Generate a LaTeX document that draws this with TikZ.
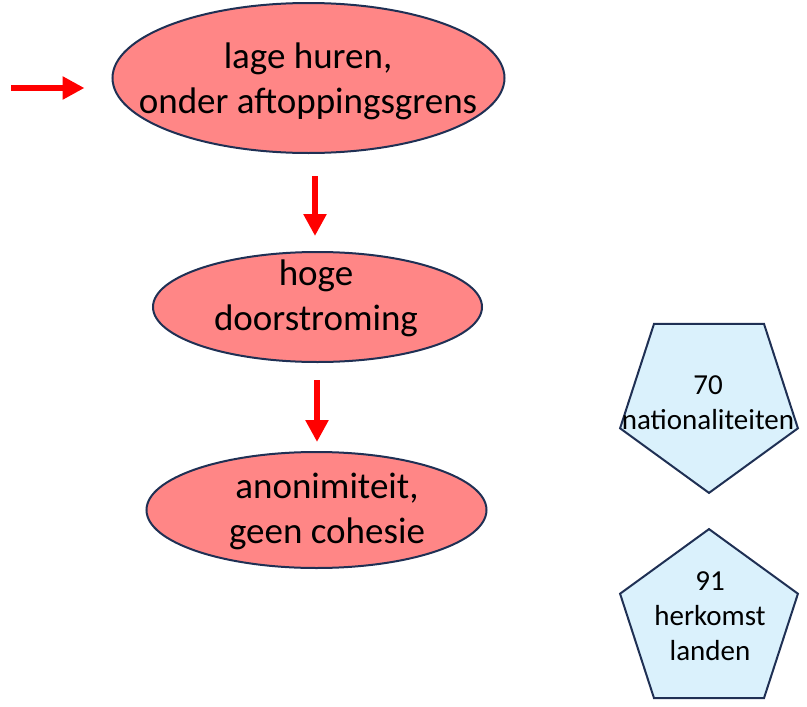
\documentclass[tikz,border=0pt]{standalone}
\usepackage{fontspec}
\setmainfont{Carlito}
\usetikzlibrary{shapes.geometric,arrows.meta}
\definecolor{ellfill}{RGB}{255,134,134}
\definecolor{penfill}{RGB}{218,241,252}
\definecolor{edge}{RGB}{31,48,84}
\definecolor{arrred}{RGB}{255,0,0}
\tikzset{
  oval/.style={ellipse, draw=edge, fill=ellfill, line width=2pt, inner sep=0pt},
  pent/.style={regular polygon, regular polygon sides=5, draw=edge, fill=penfill, line width=2pt, inner sep=0pt, minimum size=187pt},
  bigtxt/.style={align=center, font=\fontsize{37}{45}\selectfont, inner sep=0pt},
  smalltxt/.style={align=center, font=\fontsize{29}{35}\selectfont, inner sep=0pt},
  arr/.style={draw=arrred, line width=6pt, -{Triangle[width=22pt,length=22pt]}, arrred},
}
\begin{document}
\begin{tikzpicture}[x=1pt,y=-1pt]
\useasboundingbox (0,0) rectangle (807,707);
% ellipses
\node[oval, minimum width=392pt, minimum height=150pt] (e1) at (308.5,78) {};
\node[oval, minimum width=329pt, minimum height=110pt] (e2) at (317.5,307) {};
\node[oval, minimum width=340pt, minimum height=116pt] (e3) at (316.5,510) {};
\node[bigtxt] (t1) at (308,81) {lage huren,\\onder aftoppingsgrens};
\node[bigtxt] (t2) at (316,298) {hoge\\doorstroming};
\node[bigtxt] (t3) at (327,511) {anonimiteit,\\geen cohesie};
% pentagons
\node[pent, shape border rotate=180] (p1) at (709,399.4) {};
\node[pent] (p2) at (709,622.6) {};
\node[smalltxt] (q1) at (708,403) {70\\nationaliteiten};
\node[smalltxt] (q2) at (710,616) {91\\herkomst\\landen};
% arrows
\coordinate (in) at (11,88);
\draw[arr, shorten >=27pt] (in) -- (e1.west |- in);
\draw[arr, shorten <=22pt, shorten >=15pt] (e1.south -| 315,0) -- (e2.north -| 315,0);
\draw[arr, shorten <=17pt, shorten >=9pt] (e2.south -| 317,0) -- (e3.north -| 317,0);
\end{tikzpicture}
\end{document}
